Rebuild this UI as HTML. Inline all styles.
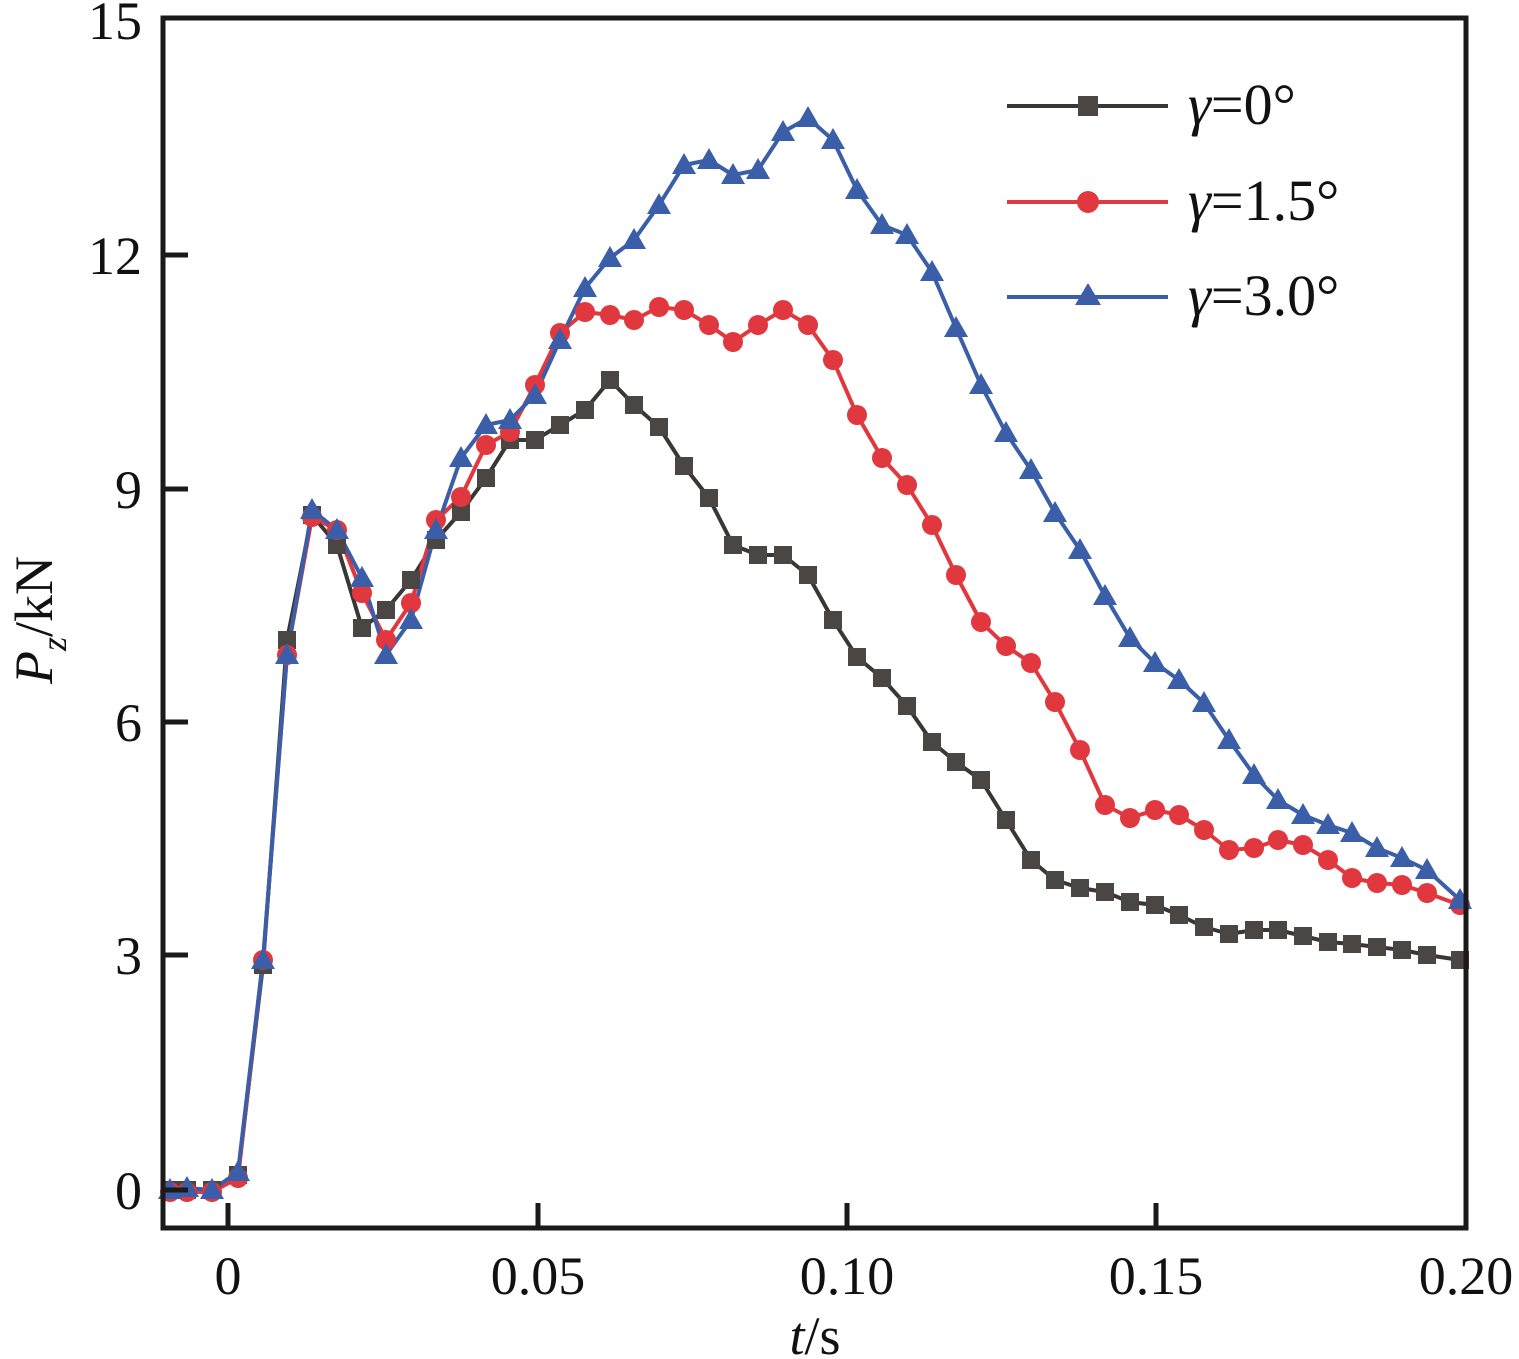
<!DOCTYPE html>
<html><head><meta charset="utf-8"><style>
html,body{margin:0;padding:0;background:#fff;}
svg{display:block;}
svg text{font-family:"Liberation Serif","Times New Roman",serif;fill:#111;}
</style></head><body>
<svg id="s" width="1519" height="1359" viewBox="0 0 1519 1359" xmlns="http://www.w3.org/2000/svg" font-family="Liberation Serif, serif">
<g id="series"></g>
<rect x="163" y="18" width="1303" height="1210" fill="none" stroke="#1a1a1a" stroke-width="5"/>
<g stroke="#1a1a1a" stroke-width="5">
<line x1="228" y1="1228" x2="228" y2="1203"/>
<line x1="538" y1="1228" x2="538" y2="1203"/>
<line x1="847" y1="1228" x2="847" y2="1203"/>
<line x1="1156" y1="1228" x2="1156" y2="1203"/>
<line x1="163" y1="1190" x2="188" y2="1190"/>
<line x1="163" y1="955" x2="188" y2="955"/>
<line x1="163" y1="722" x2="188" y2="722"/>
<line x1="163" y1="489" x2="188" y2="489"/>
<line x1="163" y1="255" x2="188" y2="255"/>
</g>
<g font-size="54" text-anchor="middle">
<text x="228" y="1294">0</text>
<text x="538" y="1294">0.05</text>
<text x="847" y="1294">0.10</text>
<text x="1156" y="1294">0.15</text>
<text x="1466" y="1294">0.20</text>
</g>
<g font-size="54" text-anchor="end">
<text x="142" y="1209">0</text>
<text x="142" y="974">3</text>
<text x="142" y="741">6</text>
<text x="142" y="508">9</text>
<text x="142" y="274">12</text>
<text x="142" y="39">15</text>
</g>
<text x="815" y="1354" font-size="54" text-anchor="middle"><tspan font-style="italic">t</tspan>/s</text>
<text transform="translate(52,620) rotate(-90)" font-size="54" text-anchor="middle"><tspan font-style="italic">P</tspan><tspan font-style="italic" font-size="36" dy="14">z</tspan><tspan dy="-14">/kN</tspan></text>
<g id="legend">
<line x1="1007" y1="106" x2="1168" y2="106" stroke="#3a3634" stroke-width="4"/>
<rect x="1078" y="96" width="20" height="20" fill="#4a4644"/>
<line x1="1007" y1="202" x2="1168" y2="202" stroke="#e0383e" stroke-width="4"/>
<circle cx="1088" cy="202" r="11" fill="#e0383e"/>
<line x1="1007" y1="297" x2="1168" y2="297" stroke="#3a5ea8" stroke-width="4"/>
<polygon points="1088,283 1101,305 1075,305" fill="#3a5ea8"/>
<text x="1188" y="124" font-size="58"><tspan font-style="italic">γ</tspan>=0°</text>
<text x="1188" y="220" font-size="58"><tspan font-style="italic">γ</tspan>=1.5°</text>
<text x="1188" y="315" font-size="58"><tspan font-style="italic">γ</tspan>=3.0°</text>
</g>
</svg>
<script>
var X=[170,187,212,238,263,287,312,337,362,386,411,436,461,486,510,535,560,585,610,634,659,684,709,733,758,783,808,833,857,882,907,932,956,981,1006,1031,1055,1080,1105,1130,1155,1179,1204,1229,1254,1278,1303,1328,1352,1377,1402,1427,1460];
var K=[1190,1190,1190,1175,965,640,515,545,628,610,580,540,512,478,440,440,425,410,380,405,427,466,498,545,555,555,575,620,657,678,706,742,762,780,820,860,880,888,892,902,905,915,927,934,930,930,936,942,944,947,950,955,960];
var R=[1192,1192,1192,1178,960,655,517,530,593,640,603,520,497,445,432,385,333,312,315,320,307,310,325,342,325,310,325,360,415,458,485,525,575,622,646,663,702,750,805,818,810,815,830,850,848,840,845,860,878,883,885,893,905];
var B=[1190,1188,1190,1172,960,655,510,530,578,655,620,530,458,425,420,395,340,288,258,240,205,165,160,175,170,132,118,140,190,225,235,272,328,385,433,470,513,550,596,638,663,680,703,740,775,800,815,825,833,848,858,870,900];
var g=document.getElementById('series'),h='';
function line(Y,c){var p=X.map(function(x,i){return x+','+Y[i]}).join(' ');h+='<polyline points="'+p+'" fill="none" stroke="'+c+'" stroke-width="4" stroke-linejoin="round"/>';}
line(K,'#3a3634');line(R,'#e0383e');line(B,'#3a5ea8');
X.forEach(function(x,i){h+='<rect x="'+(x-9)+'" y="'+(K[i]-9)+'" width="18" height="18" fill="#4a4644"/>';});
X.forEach(function(x,i){h+='<circle cx="'+x+'" cy="'+R[i]+'" r="10" fill="#e0383e"/>';});
X.forEach(function(x,i){var y=B[i];h+='<polygon points="'+x+','+(y-12)+' '+(x+12)+','+(y+9)+' '+(x-12)+','+(y+9)+'" fill="#3a5ea8"/>';});
g.innerHTML=h;
</script>
</body></html>
